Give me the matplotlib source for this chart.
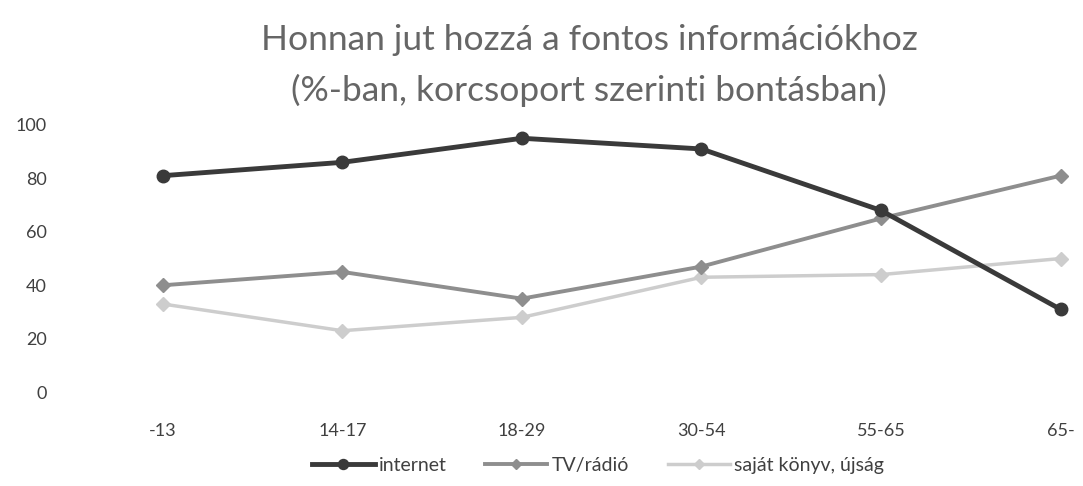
"""
Honnan jut hozzá a fontos információkhoz - korcsoportonként.
"""

from matplotlib import pyplot as plt

korcsoport = ["-13", "14-17", "18-29", "30-54", "55-65", "65-"]
internet = [81, 86, 95, 91, 68, 31]
tv_radio = [40, 45, 35, 47, 65, 81]
sajat = [33, 23, 28, 43, 44, 50]
y_ticks = [0, 20, 40, 60, 80, 100]

plt.rcParams['font.family'] = ['Lato', 'DejaVu Sans']

fig = plt.figure(figsize=(10.83, 4.86), dpi=100)
ax = fig.add_axes([73/1083, 0.193, 1 - 73/1083, 0.55])

x = list(range(len(korcsoport)))
ax.plot(x, internet, color='#3a3a3a', linewidth=3.5, marker='o', markersize=9,
        label='internet', zorder=3)
ax.plot(x, tv_radio, color='#8e8e8e', linewidth=2.8, marker='D', markersize=7,
        label='TV/rádió', zorder=2)
ax.plot(x, sajat, color='#cdcdcd', linewidth=2.5, marker='D', markersize=7,
        label='saját könyv, újság', zorder=1)

ax.set_xlim(-0.5, 5.125)
ax.set_ylim(0, 100)
ax.set_xticks(x)
ax.set_xticklabels(korcsoport)
ax.set_yticks(y_ticks)
ax.tick_params(length=0, labelsize=13, labelcolor='#404040')
ax.tick_params(axis='y', pad=19)
ax.tick_params(axis='x', pad=22)
for s in ax.spines.values():
    s.set_visible(False)

fig.text(0.544, 0.866, 'Honnan jut hozzá a fontos információkhoz\n(%-ban, korcsoport szerinti bontásban)',
         ha='center', va='center', fontsize=25.5, color='#666666',
         fontweight='normal', linespacing=1.65)

ax.legend(loc='center', bbox_to_anchor=(598/1083, 21/486),
          bbox_transform=fig.transFigure, ncol=3, frameon=False,
          fontsize=14, handlelength=3.2, columnspacing=2.0, handletextpad=0.2,
          markerscale=0.8, labelcolor='#404040')

plt.savefig('out.png')
